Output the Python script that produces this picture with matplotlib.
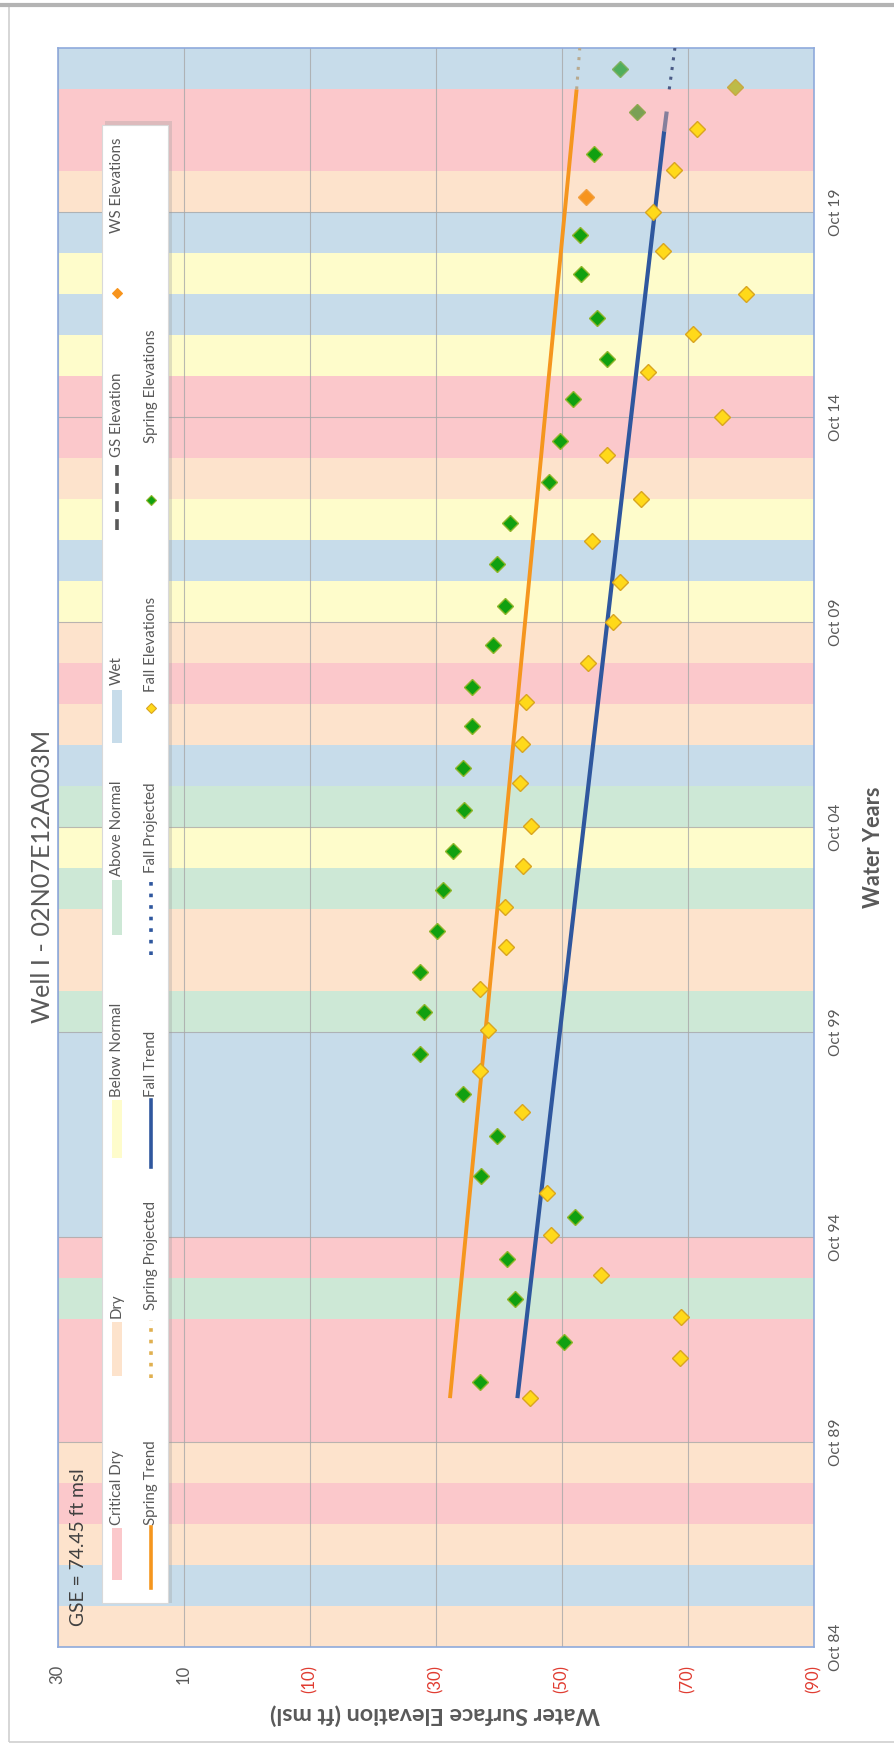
import matplotlib
matplotlib.use("Agg")
import matplotlib.pyplot as plt
from matplotlib.patches import Rectangle
from matplotlib.lines import Line2D

plt.rcParams['font.family'] = ['Lato', 'DejaVu Sans']

# water year types (Sacramento Valley index), one band per water year
water_years = list(range(1985, 2024))
year_types = ['D', 'W', 'D', 'C', 'D', 'C', 'C', 'C', 'AN', 'C',
              'W', 'W', 'W', 'W', 'W', 'AN', 'D', 'D', 'AN', 'BN',
              'AN', 'W', 'D', 'C', 'D', 'BN', 'W', 'BN', 'D', 'C',
              'C', 'BN', 'W', 'BN', 'W', 'D', 'C', 'C', 'W']
type_colors = {'C': '#fbc8cb', 'D': '#fde3cc', 'BN': '#fefccb',
               'AN': '#cde8d6', 'W': '#c7dcea'}

# spring measurements (decimal year, ft msl)
spring_dates = [1991.22, 1992.19, 1993.23, 1994.22, 1995.23, 1996.24, 1997.21,
                1998.23, 1999.21, 2000.23, 2001.21, 2002.21, 2003.21, 2004.17,
                2005.16, 2006.20, 2007.21, 2008.16, 2009.19, 2010.14, 2011.16,
                2012.16, 2013.17, 2014.16, 2015.18, 2016.16, 2017.16, 2018.25,
                2019.19, 2021.16]
spring_elev = [-37.0, -50.4, -42.6, -41.4, -52.2, -37.3, -39.8,
               -34.3, -27.6, -28.1, -27.6, -30.3, -31.2, -32.8,
               -34.6, -34.4, -35.8, -35.8, -39.2, -41.1, -39.8,
               -41.8, -48.0, -49.8, -51.8, -57.2, -55.6, -53.1,
               -52.9, -55.2]

# fall measurements
fall_dates = [1990.82, 1991.79, 1992.80, 1993.82, 1994.81, 1995.82, 1997.81,
              1998.81, 1999.80, 2000.80, 2001.82, 2002.79, 2003.81, 2004.78,
              2005.82, 2006.77, 2007.79, 2008.74, 2009.74, 2010.73, 2011.73,
              2012.75, 2013.82, 2014.75, 2015.85, 2016.77, 2017.74, 2018.81,
              2019.76, 2020.77, 2021.77]
fall_elev = [-45.0, -68.8, -68.9, -56.3, -48.4, -47.7, -43.8,
             -37.0, -38.4, -37.1, -41.2, -41.0, -43.9, -45.2,
             -43.4, -43.8, -44.4, -54.2, -58.1, -59.3, -54.9,
             -62.6, -57.2, -75.5, -63.8, -70.8, -79.3, -66.1,
             -64.6, -67.9, -71.5]

# WS elevation point
ws_dates = [2020.11]
ws_elev = [-53.9]

# latest points (different shading)
late_dates = [2022.18, 2022.79, 2023.25]
late_elev = [-62.0, -77.5, -59.3]
late_fill = ['#7aa055', '#bdbb48', '#4fae5c']
late_edge = ['#8fa850', '#c9a844', '#7fb060']

# trend lines
spring_trend_dates = [1990.82, 2022.74]
spring_trend_elev = [-32.3, -52.4]
spring_proj_dates = [2022.74, 2023.75]
spring_proj_elev = [-52.4, -52.9]
fall_trend_dates = [1990.82, 2021.72]
fall_trend_elev = [-43.0, -66.3]
fall_gs_dates = [2021.72, 2022.20]
fall_gs_elev = [-66.3, -66.7]
fall_proj_dates = [2022.74, 2023.75]
fall_proj_elev = [-67.1, -68.0]

elev_ticks = [30, 10, -10, -30, -50, -70, -90]
elev_labels = ['30', '10', '(10)', '(30)', '(50)', '(70)', '(90)']
year_ticks = [1984.75, 1989.75, 1994.75, 1999.75, 2004.75, 2009.75, 2014.75, 2019.75]
year_labels = ['Oct 84', 'Oct 89', 'Oct 94', 'Oct 99', 'Oct 04', 'Oct 09', 'Oct 14', 'Oct 19']

W, H = 894, 1743
fig = plt.figure(figsize=(W / 100, H / 100), dpi=100)
fig.patch.set_facecolor('white')
renderer = fig.canvas.get_renderer()


def fx(px):
    return px / W


def fy(py):
    return 1 - py / H


def fit_len(txt, target, vertical=True):
    # scale font so the text run is target pixels long
    bb = txt.get_window_extent(renderer)
    cur = bb.height if vertical else bb.width
    txt.set_fontsize(txt.get_fontsize() * target / cur)


# outer chart frame
fig.patches.append(Rectangle((fx(9), fy(1742)), fx(900) - fx(9), fy(6) - fy(1742),
                             transform=fig.transFigure, fill=False,
                             edgecolor='#d0d0d0', lw=1.2))
fig.lines.append(Line2D([fx(0), fx(894)], [fy(5), fy(5)], transform=fig.transFigure,
                        color='#b4b4b4', lw=3))

ax = fig.add_axes([fx(57.5), fy(1647), fx(813.5) - fx(57.5), fy(48) - fy(1647)])

# year type bands
for wy, t in zip(water_years, year_types):
    ax.axhspan(wy - 0.25, wy + 0.75, color=type_colors[t], lw=0, zorder=0)

ax.set_xlim(30, -90)
ax.set_ylim(1984.75, 2023.75)
ax.set_axisbelow('line')
ax.grid(True, color='#a8a8a8', lw=0.8, alpha=0.8)

# trend lines
ax.plot(spring_trend_elev, spring_trend_dates, color='#f5961e', lw=2.8, zorder=3,
        solid_capstyle='butt')
ax.plot(spring_proj_elev, spring_proj_dates, color='#b8a98e', lw=2.2, ls=(0, (1, 2.2)),
        zorder=3)
ax.plot(fall_trend_elev, fall_trend_dates, color='#2f579e', lw=3.0, zorder=3,
        solid_capstyle='butt')
ax.plot(fall_gs_elev, fall_gs_dates, color='#857f9c', lw=3.0, zorder=3,
        solid_capstyle='butt')
ax.plot(fall_proj_elev, fall_proj_dates, color='#4b5b86', lw=2.2, ls=(0, (1, 2.2)),
        zorder=3)

# points
ax.plot(fall_elev, fall_dates, ls='none', marker='D', ms=8.5, mfc='#ffd91a',
        mec='#d9a520', mew=1.0, zorder=4)
ax.plot(spring_elev, spring_dates, ls='none', marker='D', ms=8.5, mfc='#10a010',
        mec='#8fb52a', mew=1.0, zorder=4)
ax.plot(ws_elev, ws_dates, ls='none', marker='D', ms=8.5, mfc='#f7941d',
        mec='#f2a040', mew=1.0, zorder=4)
for d, e, fc, ec in zip(late_dates, late_elev, late_fill, late_edge):
    ax.plot([e], [d], ls='none', marker='D', ms=8.5, mfc=fc, mec=ec, mew=1.0, zorder=4)

# axes styling
for s in ax.spines.values():
    s.set_color('#8faadc')
    s.set_linewidth(1.2)
ax.set_xticks(elev_ticks)
ax.set_xticklabels(elev_labels, rotation=90, fontsize=12)
for lab, v in zip(ax.get_xticklabels(), elev_ticks):
    lab.set_color('#595959' if v > 0 else '#e03c31')
ax.tick_params(axis='x', length=0, pad=13)
ax.yaxis.tick_right()
ax.set_yticks(year_ticks)
ax.set_yticklabels(year_labels, rotation=90, va='center', fontsize=12, color='#595959')
ax.tick_params(axis='y', length=0, pad=11)

# size tick labels to the reference lengths
xl = ax.get_xticklabels()[2]
fit_len(xl, 28)
for lab in ax.get_xticklabels():
    lab.set_fontsize(xl.get_fontsize())
yl = ax.get_yticklabels()[0]
fit_len(yl, 47)
for lab in ax.get_yticklabels():
    lab.set_fontsize(yl.get_fontsize())

# titles
t = fig.text(fx(43), fy(876), 'Well I - 02N07E12A003M', rotation=90, ha='center',
             va='center', fontsize=19, color='#595959')
fit_len(t, 293)
t = fig.text(fx(435.5), fy(1714), 'Water Surface Elevation (ft msl)', rotation=180,
             ha='center', va='center', fontsize=16.5, fontweight='bold', color='#595959')
fit_len(t, 330, vertical=False)
t = fig.text(fx(873), fy(847), 'Water Years', rotation=90, ha='center', va='center',
             fontsize=16.5, fontweight='bold', color='#595959')
fit_len(t, 121)
t = fig.text(fx(79), fy(1626), 'GSE = 74.45 ft msl', rotation=90, ha='center',
             va='bottom', fontsize=15, color='#404040')
fit_len(t, 159)

# legend box with shadow
fig.patches.append(Rectangle((fx(105), fy(1603)), fx(172) - fx(105), fy(121) - fy(1603),
                             transform=fig.transFigure, facecolor='#9a9a9a', alpha=0.3,
                             lw=0, zorder=5))
fig.patches.append(Rectangle((fx(101.5), fy(1603)), fx(168) - fx(101.5), fy(125) - fy(1603),
                             transform=fig.transFigure, facecolor='white',
                             edgecolor='#d9d9d9', lw=0.8, zorder=6))

leg_color = '#595959'
leg_texts = []
row1, row2 = 117, 151
patch_entries = [('Critical Dry', 'C', 1580, 1528, 1525),
                 ('Dry', 'D', 1376, 1322, 1318),
                 ('Below Normal', 'BN', 1158, 1100, 1097),
                 ('Above Normal', 'AN', 935, 880, 876),
                 ('Wet', 'W', 743, 690, 685)]
for label, tp, yb, yt, ytxt in patch_entries:
    fig.patches.append(Rectangle((fx(row1 - 5), fy(yb)), fx(10), fy(yt) - fy(yb),
                                 transform=fig.transFigure, facecolor=type_colors[tp],
                                 lw=0, zorder=7))
    leg_texts.append(fig.text(fx(row1), fy(ytxt), label, rotation=90, ha='center',
                              va='bottom', fontsize=11.5, color=leg_color, zorder=8))

line_entries = [('GS Elevation', row1, 530, 462, 457, '#595959', (0, (3, 2))),
                ('Spring Trend', row2, 1588, 1527, 1525, '#f5961e', '-'),
                ('Spring Projected', row2, 1378, 1320, 1310, '#e0b050', (0, (1, 2.2))),
                ('Fall Trend', row2, 1167, 1100, 1097, '#2f579e', '-'),
                ('Fall Projected', row2, 955, 878, 873, '#2f579e', (0, (1, 2.2)))]
for label, xr, yb, yt, ytxt, c, ls in line_entries:
    fig.lines.append(Line2D([fx(xr), fx(xr)], [fy(yb), fy(yt)], transform=fig.transFigure,
                            color=c, lw=2.6, ls=ls, zorder=7))
    leg_texts.append(fig.text(fx(xr), fy(ytxt), label, rotation=90, ha='center',
                              va='bottom', fontsize=11.5, color=leg_color, zorder=8))

marker_entries = [('WS Elevations', row1, 293, 233, '#f7941d', '#f7941d'),
                  ('Fall Elevations', row2, 708, 692, '#ffd91a', '#d9a520'),
                  ('Spring Elevations', row2, 500, 443, '#10a010', '#8fb52a')]
for label, xr, ym, ytxt, fc, ec in marker_entries:
    fig.lines.append(Line2D([fx(xr)], [fy(ym)], transform=fig.transFigure, ls='none',
                            marker='D', ms=5, mfc=fc, mec=ec, mew=0.8, zorder=7))
    leg_texts.append(fig.text(fx(xr), fy(ytxt), label, rotation=90, ha='center',
                              va='bottom', fontsize=11.5, color=leg_color, zorder=8))

# one common legend font size, matched to the total label length in the reference
total = sum(tx.get_window_extent(renderer).height for tx in leg_texts)
leg_fs = 11.5 * 1057 / total
for tx in leg_texts:
    tx.set_fontsize(leg_fs)

fig.savefig('out.png', dpi=100)
